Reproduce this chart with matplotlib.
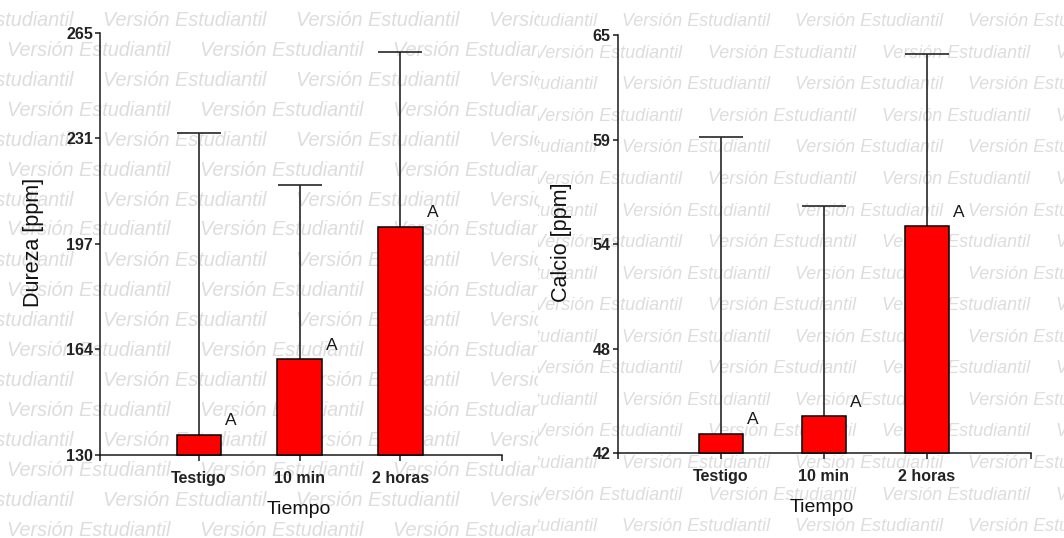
import matplotlib
matplotlib.use("Agg")
import matplotlib.pyplot as plt
import numpy as np

plt.rcParams['font.family'] = ['Liberation Sans', 'DejaVu Sans']

categories = ["Testigo", "10 min", "2 horas"]
letters = ["A", "A", "A"]

dureza_mean = [136.4, 160.6, 202.9]
dureza_sd = [96.4, 55.8, 55.8]
dureza_ticks = [130, 163.75, 197.5, 231.25, 265]
dureza_ticklabels = ["130", "164", "197", "231", "265"]

calcio_mean = [43.08, 44.05, 54.48]
calcio_sd = [16.33, 11.53, 9.45]
calcio_ticks = [42, 47.75, 53.5, 59.25, 65]
calcio_ticklabels = ["42", "48", "54", "59", "65"]

W, H = 1064, 538
fig = plt.figure(figsize=(W / 100, H / 100), dpi=100)
fig.patch.set_facecolor("white")

WM_TEXT = "Versión Estudiantil"
WM_COLOR = "#dddddd"

# --- watermark backgrounds (two tiled images side by side) ---
bg_left = fig.add_axes([0, 0, 538 / W, 1])
bg_right = fig.add_axes([538 / W, 0, (W - 538) / W, 1])
for bg in (bg_left, bg_right):
    bg.set_axis_off()
    bg.set_zorder(-5)
    bg.set_xlim(0, 1)
    bg.set_ylim(0, 1)

def wm(bg, x_px, y_px, size):
    t = fig.text(x_px / W, 1 - y_px / H, WM_TEXT, fontsize=size, style="italic",
                 color=WM_COLOR, ha="left", va="center", zorder=-4)
    t.set_clip_box(bg.bbox)
    t.set_clip_on(True)
    return t

for k in range(18):
    y = 20 + 30 * k
    starts = [-90, 103, 296, 489] if k % 2 == 0 else [7, 200, 393]
    for s in starts:
        wm(bg_left, s, y, 14.3)

for k in range(17):
    y = 21.8 + 31.55 * k
    starts = [449, 622, 795, 968] if k % 2 == 0 else [361, 534, 708, 882, 1056]
    for s in starts:
        wm(bg_right, s, y, 12.9)

# --- chart panels ---
panels = [
    dict(rect=[100 / W, (H - 455) / H, 402 / W, 422.3 / H], xlim=(-0.981, 3.009),
         ylim=(130, 265), mean=dureza_mean, sd=dureza_sd, ticks=dureza_ticks,
         ticklabels=dureza_ticklabels, width=0.44, ylabel="Dureza [ppm]",
         ylab_xy=(34, 242.5), xlab_xy=(299, 509)),
    dict(rect=[617.7 / W, (H - 453.3) / H, 413.3 / W, 418.3 / H], xlim=(-1.004, 3.013),
         ylim=(42, 65), mean=calcio_mean, sd=calcio_sd, ticks=calcio_ticks,
         ticklabels=calcio_ticklabels, width=0.428, ylabel="Calcio [ppm]",
         ylab_xy=(561, 242.4), xlab_xy=(822, 507)),
]

for p in panels:
    ax = fig.add_axes(p["rect"])
    ax.patch.set_alpha(0)
    x = np.arange(len(categories))
    mean = np.array(p["mean"])
    sd = np.array(p["sd"])
    w = p["width"]

    eb = ax.errorbar(x, mean, yerr=[np.zeros_like(sd), sd], fmt="none",
                     ecolor="#262626", elinewidth=1.2, capsize=15.5, capthick=1.2,
                     zorder=2, clip_on=False)
    eb[1][0].set_visible(False)
    ax.bar(x, mean - p["ylim"][0], bottom=p["ylim"][0], width=w, color="#ff0000",
           edgecolor="black", linewidth=1.1, zorder=3, clip_on=False)

    for xi, m, lt in zip(x, mean, letters):
        ax.annotate(lt, xy=(xi + w / 2, m), xytext=(10, 14), textcoords="offset pixels",
                    ha="center", va="center", fontsize=12.5, color="#1a1a1a")

    ax.set_xlim(*p["xlim"])
    ax.set_ylim(*p["ylim"])
    ax.set_xticks(x)
    ax.set_xticklabels(categories, fontsize=11.5, fontweight="bold", color="#222222")
    ax.set_xticks(list(p["xlim"]), minor=True)
    ax.set_yticks(p["ticks"])
    ax.set_yticklabels(p["ticklabels"], fontsize=11.5, fontweight="bold", color="#222222")

    for side in ("top", "right"):
        ax.spines[side].set_visible(False)
    for side in ("left", "bottom"):
        ax.spines[side].set_linewidth(1.1)
        ax.spines[side].set_color("#1a1a1a")
    ax.tick_params(axis="x", which="both", direction="out", length=4.5, width=1.1,
                   color="#1a1a1a", pad=7)
    ax.tick_params(axis="y", direction="out", length=3.6, width=1.1,
                   color="#1a1a1a", pad=1.5)

    fig.text(p["ylab_xy"][0] / W, 1 - p["ylab_xy"][1] / H, p["ylabel"], rotation=90,
             ha="center", va="center", fontsize=15.5, color="#111111")
    fig.text(p["xlab_xy"][0] / W, 1 - p["xlab_xy"][1] / H, "Tiempo",
             ha="center", va="center", fontsize=14, color="#111111")

fig.savefig("out.png", dpi=100, facecolor="white")
